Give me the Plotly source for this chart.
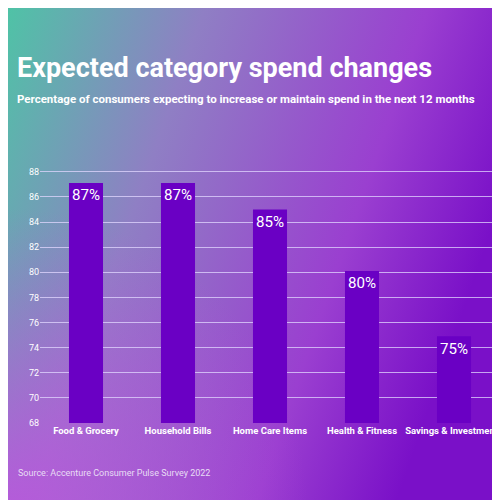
import plotly.graph_objects as go
import base64

categories = ["Food & Grocery", "Household Bills", "Home Care Items", "Health & Fitness", "Savings & Investments"]
values = [87.1, 87.1, 85, 80.1, 74.9]
labels = ["87%", "87%", "85%", "80%", "75%"]
tick_vals = list(range(68, 89, 2))
base_value = 68

svg = ('<svg xmlns="http://www.w3.org/2000/svg" width="500" height="500">'
       '<defs><linearGradient id="g" x1="0" y1="0" x2="1" y2="0.35">'
       '<stop offset="0" stop-color="#4fc3a6"/><stop offset="0.35" stop-color="#8f7fc4"/>'
       '<stop offset="0.75" stop-color="#9a3fd0"/><stop offset="1" stop-color="#7a10c8"/></linearGradient>'
       '<radialGradient id="r" cx="0" cy="1" r="0.6"><stop offset="0" stop-color="#c050e0" stop-opacity="0.8"/>'
       '<stop offset="1" stop-color="#c050e0" stop-opacity="0"/></radialGradient></defs>'
       '<rect width="500" height="500" fill="url(#g)"/><rect width="500" height="500" fill="url(#r)"/></svg>')
src = "data:image/svg+xml;base64," + base64.b64encode(svg.encode()).decode()

L, R, T, B = 32, 8, 160, 85
pw = 500 - L - R
ph = 500 - T - B
def px(xp): return (xp - L) / pw
def py(yp): return (500 - B - yp) / ph

fig = go.Figure(go.Bar(
    x=categories, y=[v - base_value for v in values], base=base_value,
    text=labels, textposition="inside", insidetextanchor="end", textangle=0,
    textfont=dict(color="white", size=17, family="Roboto"),
    marker=dict(color="#6a00c4", line=dict(width=0)), width=0.37,
))
fig.update_layout(
    width=500, height=500, margin=dict(l=L, r=R, t=T, b=B, autoexpand=False),
    paper_bgcolor="rgba(0,0,0,0)", plot_bgcolor="rgba(0,0,0,0)",
    images=[dict(source=src, xref="paper", yref="paper", x=px(0), y=py(0), sizex=500 / pw, sizey=500 / ph,
                 sizing="stretch", layer="below", xanchor="left", yanchor="top")],
    xaxis=dict(showgrid=False, automargin=False, tickangle=0,
               tickfont=dict(color="white", size=9.5, family="Roboto"), ticks=""),
    yaxis=dict(range=[68, 88.3], tickvals=tick_vals, automargin=False,
               gridcolor="rgba(225,215,255,0.75)", gridwidth=1,
               tickfont=dict(color="white", size=9, family="Roboto"), zeroline=False),
    showlegend=False,
    annotations=[
        dict(text="<b>Expected category spend changes</b>", x=px(7), y=py(60), xref="paper", yref="paper",
             xanchor="left", yanchor="middle", showarrow=False, font=dict(color="white", size=27, family="Roboto")),
        dict(text="<b>Percentage of consumers expecting to increase or maintain spend in the next 12 months</b>",
             x=px(7), y=py(91), xref="paper", yref="paper", xanchor="left", yanchor="middle",
             showarrow=False, font=dict(color="white", size=11.5, family="Roboto")),
        dict(text="Source: Accenture Consumer Pulse Survey 2022", x=px(8), y=py(465), xref="paper", yref="paper",
             xanchor="left", yanchor="middle", showarrow=False, font=dict(color="#e8dcf5", size=9, family="Roboto")),
    ],
)
fig.update_xaxes(tickprefix="<b>", ticksuffix="</b>")
fig.write_html("out.html")
